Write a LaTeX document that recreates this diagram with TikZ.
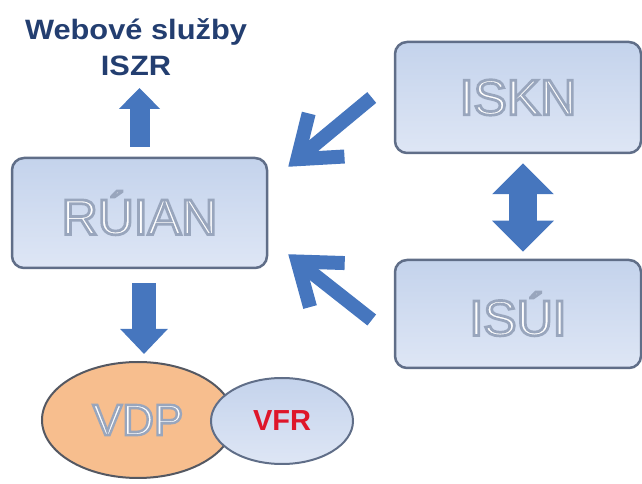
\documentclass[tikz,border=0pt]{standalone}
\usepackage{fontspec}
\setmainfont{Liberation Sans}
\newfontfamily\hollowfont{Liberation Sans}[RawFeature={embolden=5.5}]
\usetikzlibrary{arrows.meta,shapes.geometric}

\definecolor{arrowblue}{RGB}{70,118,190}
\definecolor{titlenavy}{RGB}{35,62,112}
\definecolor{boxtop}{RGB}{196,211,236}
\definecolor{boxbottom}{RGB}{222,230,245}
\definecolor{boxline}{RGB}{96,110,136}
\definecolor{vdpfill}{RGB}{247,190,142}
\definecolor{vdpline}{RGB}{84,88,98}
\definecolor{vfrred}{RGB}{222,22,42}

\newcommand{\outl}[1]{\special{pdf:literal direct 0.6 0.65 0.74 RG}#1}

\begin{document}
\begin{tikzpicture}[x=1pt,y=1pt,
  sysbox/.style={draw=boxline, line width=2.5pt, rounded corners=12pt,
    top color=boxtop, bottom color=boxbottom, text=white,
    font=\hollowfont\fontsize{50pt}{56pt}\selectfont, inner sep=0pt},
  fatarrow/.style={draw=arrowblue, line width=#1},
  diagarrow/.style={draw=arrowblue, line width=14pt,
    -{Straight Barb[length=38pt,width=56pt]}}]
  \useasboundingbox (0,0) rectangle (642,484);

  \node[sysbox, minimum width=255pt, minimum height=110pt] (ruian) at (139.5,271) {\outl{RÚIAN}};
  \node[sysbox, minimum width=246pt, minimum height=111pt] (iskn) at (518,386.5) {\outl{ISKN}};
  \node[sysbox, minimum width=246pt, minimum height=108pt] (isui) at (518,170) {\outl{ISÚI}};

  \node[ellipse, draw=vdpline, line width=2pt, fill=vdpfill, minimum width=192pt,
    minimum height=116pt, inner sep=0pt, text=white,
    font=\hollowfont\fontsize{44pt}{50pt}\selectfont] (vdp) at (138,64) {\outl{VDP}};
  \node[ellipse, draw=boxline, line width=2pt, top color=boxtop, bottom color=boxbottom,
    minimum width=142pt, minimum height=86pt, inner sep=0pt, text=vfrred,
    font=\bfseries\fontsize{29pt}{32pt}\selectfont] (vfr) at (282,63) {VFR};

  \node[align=center, inner sep=0pt, text=titlenavy, xscale=1.1,
    font=\bfseries\fontsize{28pt}{36pt}\selectfont] (web) at (136,437) {Webové služby\\ISZR};

  \draw[fatarrow=20pt, -{Triangle[width=40pt,length=21pt]}]
    ([yshift=10pt]ruian.north) -- (ruian.north |- {(0,396)});
  \draw[fatarrow=24pt, -{Triangle[width=46pt,length=25pt]}]
    ([xshift=4.5pt,yshift=-14pt]ruian.south) -- ([xshift=6pt,yshift=7pt]vdp.north);
  \draw[fatarrow=28pt, {Triangle[width=60pt,length=31pt]}-{Triangle[width=60pt,length=31pt]}]
    ([xshift=5pt,yshift=-9pt]iskn.south) -- ([xshift=5pt,yshift=7pt]isui.north);

  \draw[diagarrow] ([xshift=-22pt]iskn.west) -- ([shift={(20pt,-10pt)}]ruian.north east);
  \draw[diagarrow] ([shift={(-22pt,-6pt)}]isui.west) -- ([shift={(20pt,15pt)}]ruian.south east);
\end{tikzpicture}
\end{document}
